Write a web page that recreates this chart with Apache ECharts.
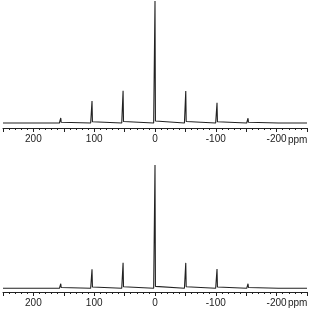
<!DOCTYPE html>
<html><head><meta charset="utf-8">
<script src="https://cdn.jsdelivr.net/npm/echarts@6/dist/echarts.min.js"></script>
<style>html,body{margin:0;padding:0;background:#fff}#c{width:310px;height:312px}</style>
</head><body><div id="c"></div>
<script>
// Peak positions (ppm) of centre band and spinning sidebands
const peakPositions = [207, 155, 103.6, 52.5, 0, -50.6, -102, -153, -205];
// Relative intensities (centre band = 1)
const topHeights    = [0.012, 0.041, 0.180, 0.265, 1, 0.262, 0.166, 0.039, 0.010];
const bottomHeights = [0.016, 0.037, 0.155, 0.208, 1, 0.206, 0.157, 0.037, 0.010];
// Small lift at the foot of each line
const footLift = [0.004, 0.006, 0.010, 0.012, 0.016, 0.012, 0.010, 0.006, 0.004];
const tickLabels = ['200', '100', '0', '-100', '-200'];
const axisUnit = 'ppm';

function spectrum(heights) {
  const d = [[250, 0]];
  peakPositions.forEach((p, i) => {
    const h = heights[i], f = footLift[i];
    d.push([p + 2.2, 0], [p + 0.7, f], [p, h], [p - 0.7, f], [p - 2.2, 0]);
  });
  d.push([-250, 0]);
  return d;
}

const chart = echarts.init(document.getElementById('c'), null, {renderer: 'canvas'});
const xAxisBase = {
  type: 'value', min: -250, max: 250, interval: 50, inverse: true,
  axisLine: {show: true, onZero: false, lineStyle: {color: '#222', width: 1}},
  axisTick: {show: true, inside: false, length: 4, lineStyle: {color: '#222', width: 1}},
  minorTick: {show: true, splitNumber: 5, length: 2, lineStyle: {color: '#222', width: 1}},
  splitLine: {show: false},
  axisLabel: {
    margin: 6, color: '#222', fontSize: 10, fontFamily: 'Liberation Sans, Arial, sans-serif',
    formatter: v => tickLabels.indexOf(String(v)) >= 0 ? String(v) : ''
  }
};
const yAxisBase = {type: 'value', max: 1, show: false, splitLine: {show: false}};
chart.setOption({
  animation: false,
  grid: [
    {left: 1, right: 3, top: 1, height: 127},
    {left: 1, right: 3, top: 165, height: 127}
  ],
  xAxis: [Object.assign({gridIndex: 0}, xAxisBase), Object.assign({gridIndex: 1}, xAxisBase)],
  yAxis: [Object.assign({gridIndex: 0, min: -0.041}, yAxisBase), Object.assign({gridIndex: 1, min: -0.03}, yAxisBase)],
  series: [
    {type: 'line', xAxisIndex: 0, yAxisIndex: 0, data: spectrum(topHeights), showSymbol: false,
     lineStyle: {color: '#222', width: 1.1}, clip: false},
    {type: 'line', xAxisIndex: 1, yAxisIndex: 1, data: spectrum(bottomHeights), showSymbol: false,
     lineStyle: {color: '#222', width: 1.1}, clip: false}
  ],
  graphic: [
    {type: 'text', left: 288, top: 135, style: {text: axisUnit, fill: '#222', font: '10px Liberation Sans, Arial, sans-serif'}},
    {type: 'text', left: 288, top: 298, style: {text: axisUnit, fill: '#222', font: '10px Liberation Sans, Arial, sans-serif'}}
  ]
});
</script></body></html>
